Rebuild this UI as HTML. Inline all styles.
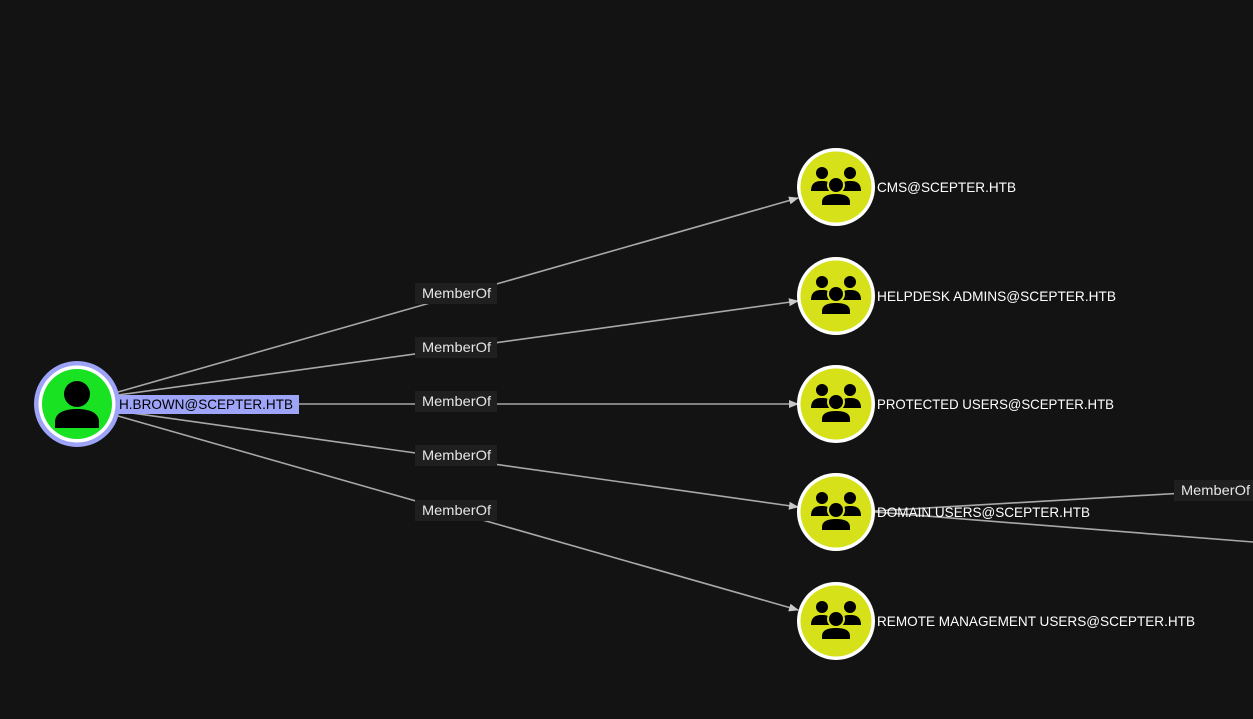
<!DOCTYPE html>
<html><head><style>
html,body{margin:0;padding:0;background:#131313;}
svg{display:block;}
text{font-family:"Liberation Sans",Arial,sans-serif;}
</style></head><body>
<svg width="1253" height="719" viewBox="0 0 1253 719" xmlns="http://www.w3.org/2000/svg">
<defs>
<marker id="ar" markerWidth="10" markerHeight="8" refX="9" refY="4" orient="auto" markerUnits="userSpaceOnUse">
<path d="M0,0 L10,4 L0,8 z" fill="#c8c8c8"/>
</marker>
<g id="grp">
<circle r="39" fill="#ffffff"/>
<circle r="35.5" fill="#d6e11a"/>
<circle cx="-14" cy="-14" r="6" fill="#000"/>
<circle cx="14" cy="-14" r="6" fill="#000"/>
<path d="M-25,4 C-25,-5 -19,-6 -14,-6 C-9,-6 -4,-5 -4,4 z" fill="#000"/>
<path d="M4,4 C4,-5 9,-6 14,-6 C19,-6 25,-5 25,4 z" fill="#000"/>
<circle cx="0" cy="-2" r="9" fill="#d6e11a"/>
<circle cx="0" cy="-2" r="7" fill="#000"/>
<path d="M-15,19 L-15,15 C-15,8 -8,6 0,6 C8,6 15,8 15,15 L15,19 z" fill="#000" stroke="#d6e11a" stroke-width="2"/>
</g>
</defs>
<rect width="1253" height="719" fill="#131313"/>
<g stroke="#a8a8a8" stroke-width="1.6" fill="none">
<line x1="118" y1="392" x2="798" y2="198" marker-end="url(#ar)"/>
<line x1="118" y1="395" x2="798" y2="301" marker-end="url(#ar)"/>
<line x1="118" y1="404" x2="798" y2="404" marker-end="url(#ar)"/>
<line x1="118" y1="411" x2="798" y2="507" marker-end="url(#ar)"/>
<line x1="118" y1="416" x2="798" y2="610" marker-end="url(#ar)"/>
<line x1="875" y1="511" x2="1253" y2="489"/>
<line x1="875" y1="512" x2="1253" y2="542"/>
</g>
<g font-size="14" fill="#e6e6e6">
<rect x="415" y="283" width="82" height="21" fill="#1f1f1f"/><text x="422" y="298" textLength="69" lengthAdjust="spacingAndGlyphs">MemberOf</text>
<rect x="415" y="337" width="82" height="21" fill="#1f1f1f"/><text x="422" y="352" textLength="69" lengthAdjust="spacingAndGlyphs">MemberOf</text>
<rect x="415" y="391" width="82" height="21" fill="#1f1f1f"/><text x="422" y="406" textLength="69" lengthAdjust="spacingAndGlyphs">MemberOf</text>
<rect x="415" y="445" width="82" height="21" fill="#1f1f1f"/><text x="422" y="460" textLength="69" lengthAdjust="spacingAndGlyphs">MemberOf</text>
<rect x="415" y="500" width="82" height="21" fill="#1f1f1f"/><text x="422" y="515" textLength="69" lengthAdjust="spacingAndGlyphs">MemberOf</text>
<rect x="1174" y="480" width="82" height="21" fill="#1f1f1f"/><text x="1181" y="495" textLength="69" lengthAdjust="spacingAndGlyphs">MemberOf</text>
</g>
<circle cx="77" cy="404" r="43" fill="#9da3f6"/>
<circle cx="77" cy="404" r="38.5" fill="#ffffff"/>
<circle cx="77" cy="404" r="35" fill="#19e223"/>
<circle cx="77" cy="394" r="13" fill="#000"/>
<path d="M55,428 L55,422 C55,412 66,409 77,409 C88,409 99,412 99,422 L99,428 z" fill="#000"/>
<rect x="117" y="395" width="182" height="19" fill="#9ea4f7"/>
<text x="119" y="409" font-size="14" fill="#000" textLength="174" lengthAdjust="spacingAndGlyphs">H.BROWN@SCEPTER.HTB</text>
<use href="#grp" x="836" y="187"/>
<use href="#grp" x="836" y="296"/>
<use href="#grp" x="836" y="404"/>
<use href="#grp" x="836" y="512"/>
<use href="#grp" x="836" y="621"/>
<g font-size="14" fill="#ffffff">
<text x="877" y="192" textLength="139" lengthAdjust="spacingAndGlyphs">CMS@SCEPTER.HTB</text>
<text x="877" y="301" textLength="239" lengthAdjust="spacingAndGlyphs">HELPDESK ADMINS@SCEPTER.HTB</text>
<text x="877" y="409" textLength="237" lengthAdjust="spacingAndGlyphs">PROTECTED USERS@SCEPTER.HTB</text>
<text x="877" y="517" textLength="213" lengthAdjust="spacingAndGlyphs">DOMAIN USERS@SCEPTER.HTB</text>
<text x="877" y="626" textLength="318" lengthAdjust="spacingAndGlyphs">REMOTE MANAGEMENT USERS@SCEPTER.HTB</text>
</g>
</svg>
</body></html>
